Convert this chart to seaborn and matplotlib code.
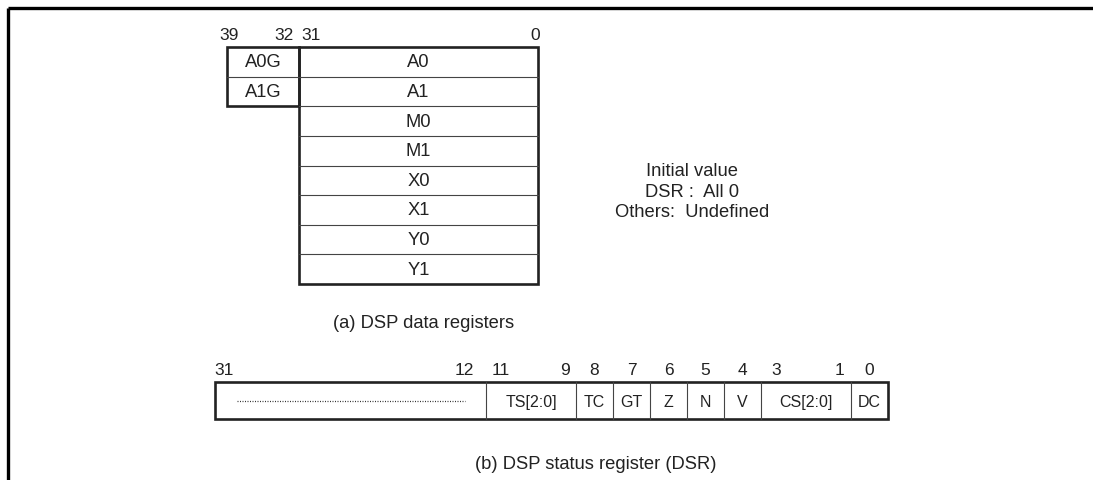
import matplotlib
matplotlib.use('Agg')
import matplotlib.pyplot as plt
import seaborn as sns
from matplotlib.patches import Rectangle

sns.set_style('white')
plt.rcParams['font.family'] = ['Liberation Sans', 'DejaVu Sans']
plt.rcParams['font.size'] = 13.2

# ================= 数据 =================
data_regs = ['A0', 'A1', 'M0', 'M1', 'X0', 'X1', 'Y0', 'Y1']
guard_regs = ['A0G', 'A1G']
data_bit_labels = ['39', '32', '31', '0']
init_lines = ['Initial value', 'DSR :  All 0', 'Others:  Undefined']

dsr_names = ['', 'TS[2:0]', 'TC', 'GT', 'Z', 'N', 'V', 'CS[2:0]', 'DC']
dsr_hi = [31, 11, 8, 7, 6, 5, 4, 3, 0]
dsr_lo = [12, 9, 8, 7, 6, 5, 4, 1, 0]
dsr_widths = [271, 90, 37, 37, 37, 37, 37, 90, 37]   # 画面上每个字段的宽度(px)

title_a = '(a) DSP data registers'
title_b = '(b) DSP status register (DSR)'

# ================= 画布 =================
W, H = 1093, 481
fig = plt.figure(figsize=(W / 100, H / 100), dpi=100)
ax = fig.add_axes([0, 0, 1, 1])
ax.set_xlim(0, W)
ax.set_ylim(H, 0)
ax.axis('off')

THICK = 1.9
THIN = 0.8
GREY = '#444444'
TXT = '#222222'

# 外框（上、左）
ax.plot([7.5, W], [8.5, 8.5], color='black', lw=2.4, solid_capstyle='butt')
ax.plot([7.5, 7.5], [8.5, H], color='black', lw=2.4, solid_capstyle='butt')

# -------------------- (a) 数据寄存器 --------------------
gx0, gx1 = 227, 299
mx0, mx1 = 299, 538
y0 = 48
rh = (285 - 48) / len(data_regs)

for i, name in enumerate(data_regs):
    ax.text((mx0 + mx1) / 2, y0 + (i + 0.5) * rh, name, ha='center', va='center', color=TXT)
    if i > 0:
        ax.plot([mx0, mx1], [y0 + i * rh] * 2, color=GREY, lw=THIN)
for i, name in enumerate(guard_regs):
    ax.text((gx0 + gx1) / 2, y0 + (i + 0.5) * rh, name, ha='center', va='center', color=TXT)
    if i > 0:
        ax.plot([gx0, gx1], [y0 + i * rh] * 2, color=GREY, lw=THIN)

ax.add_patch(Rectangle((mx0, y0), mx1 - mx0, rh * len(data_regs), fill=False, ec='#222222', lw=THICK))
ax.add_patch(Rectangle((gx0, y0), gx1 - gx0, rh * len(guard_regs), fill=False, ec='#222222', lw=THICK))

bit_x = [229, 284, 311, 535]
for lab, bx in zip(data_bit_labels, bit_x):
    ax.text(bx, 35, lab, ha='center', va='center', fontsize=12.5, color=TXT)

ax.text(424, 324, title_a, ha='center', va='center', color=TXT)

for k, line in enumerate(init_lines):
    ax.text(692, 172 + k * 20.5, line, ha='center', va='center', color=TXT)

# -------------------- (b) 状态寄存器 --------------------
sx0 = 215
sy0, sy1 = 383, 420
left = sx0
for name, hi, lo, w in zip(dsr_names, dsr_hi, dsr_lo, dsr_widths):
    right = left + w
    if left > sx0:
        ax.plot([left, left], [sy0, sy1], color=GREY, lw=THIN)
    if name:
        ax.text((left + right) / 2, (sy0 + sy1) / 2 + 1, name, ha='center', va='center',
                fontsize=11.5, color=TXT)
    else:
        ax.plot([left + 22, right - 21], [(sy0 + sy1) / 2] * 2, color='#333333', lw=0.9,
                linestyle=(0, (0.8, 1.2)))
    if hi == lo:
        ax.text((left + right) / 2, 371, str(hi), ha='center', va='center', fontsize=12.5, color=TXT)
    else:
        ax.text(left + (9 if w > 100 else 15), 371, str(hi), ha='center', va='center',
                fontsize=12.5, color=TXT)
        ax.text(right - (22 if w > 100 else 11), 371, str(lo), ha='center', va='center',
                fontsize=12.5, color=TXT)
    left = right

ax.add_patch(Rectangle((sx0, sy0), left - sx0, sy1 - sy0, fill=False, ec='#222222', lw=THICK))

ax.text(596, 465, title_b, ha='center', va='center', color=TXT)

fig.savefig('out.png', dpi=100)
